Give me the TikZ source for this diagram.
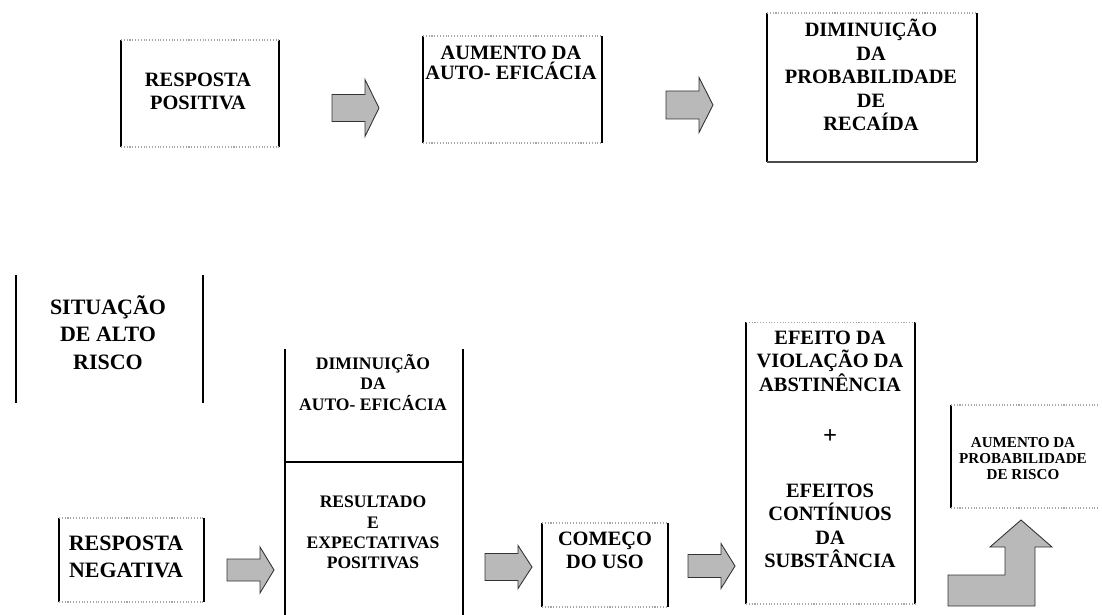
\documentclass[tikz,border=0pt]{standalone}
\usepackage{fontspec}
\setmainfont{Liberation Serif}

\begin{document}
\begin{tikzpicture}
  [x=0.02cm, y=-0.02cm,
   box/.style={inner sep=0, outer sep=0},
   txt/.style={font=\bfseries\fontsize{11.6}{13.4}\selectfont, align=center, inner sep=0},
   big/.style={font=\bfseries\fontsize{12.5}{15.5}\selectfont, align=center, inner sep=0},
   small/.style={font=\bfseries\fontsize{10}{11.5}\selectfont, align=center, inner sep=0},
   tiny/.style={font=\bfseries\fontsize{8.6}{9.1}\selectfont, align=center, inner sep=0},
   bar/.style={line width=1.6pt, black},
   rim/.style={gray!70, densely dotted, line width=0.6pt},
   fatarrow/.style={fill=gray!55, draw=gray!40!black, line width=0.5pt}]

  \useasboundingbox (0,0) rectangle (1102,615);

  % upper row
  \node[box, minimum width=3.16cm, minimum height=2.14cm] (pos) at (200,93.5) {};
  \node[box, minimum width=3.58cm, minimum height=2.14cm] (aum) at (512.5,89.5) {};
  \node[box, minimum width=4.2cm, minimum height=2.98cm] (dim) at (872,87.5) {};

  \node[txt] (postxt) at (198,91.5) {RESPOSTA\\POSITIVA};
  \node[txt, font=\bfseries\fontsize{11.6}{11.5}\selectfont] (aumtxt) at (511,63) {AUMENTO DA\\AUTO- EFICÁCIA};
  \node[txt] (dimtxt) at (871,75) {DIMINUIÇÃO\\DA\\PROBABILIDADE\\DE\\RECAÍDA};

  % lower row
  \node[box, minimum width=3.74cm, minimum height=2.56cm] (sit) at (109.5,339) {};
  \node[box, minimum width=2.9cm, minimum height=1.68cm] (neg) at (131.5,560) {};
  \node[box, minimum width=3.56cm, minimum height=5.32cm] (res) at (374,482) {};
  \node[box, minimum width=2.52cm, minimum height=1.68cm] (com) at (605,565) {};
  \node[box, minimum width=3.38cm, minimum height=5.64cm] (efe) at (830.5,463) {};
  \node[box, minimum width=2.98cm, minimum height=2.06cm] (ris) at (1025.5,456.5) {};

  \node[big] (sittxt) at (108,332.5) {SITUAÇÃO\\DE ALTO\\RISCO};
  \node[big] (negtxt) at (126,557) {RESPOSTA\\NEGATIVA};
  \node[small] (restop) at (373,382.5) {DIMINUIÇÃO\\DA\\AUTO- EFICÁCIA};
  \node[small] (resbot) at (373,532.5) {RESULTADO\\E\\EXPECTATIVAS\\POSITIVAS};
  \node[txt] (comtxt) at (605,550.5) {COMEÇO\\DO USO};
  \node[txt] (efetop) at (830,361) {EFEITO DA\\VIOLAÇÃO DA\\ABSTINÊNCIA};
  \node[txt, font=\bfseries\fontsize{14}{14}\selectfont] (plus) at (830,437) {+};
  \node[txt] (efebot) at (830,526) {EFEITOS\\CONTÍNUOS\\DA\\SUBSTÂNCIA};
  \node[tiny] (ristxt) at (1023,459) {AUMENTO DA\\PROBABILIDADE\\DE RISCO};

  % side bars and faint rims
  \foreach \b in {pos,aum,dim,sit,neg,res,com,efe}
    \draw[bar] (\b.north west) -- (\b.south west) (\b.north east) -- (\b.south east);
  \draw[bar] (ris.north west) -- (ris.south west);
  \foreach \b in {pos,aum,neg,com,efe,ris}
    \draw[rim] (\b.north west) -- (\b.north east) (\b.south west) -- (\b.south east);
  \draw[rim] (dim.north west) -- (dim.north east);
  \draw[gray!60!black, line width=0.6pt] (dim.south west) -- (dim.south east);

  \coordinate (cut) at (374,462);
  \draw[line width=0.6pt] (res.west |- cut) -- (res.east |- cut);

  % block arrows
  \foreach \x/\y/\b/\h in {332/108/27/57, 666/105/28/55, 227/570/22/46, 485/567/27/43, 688/566/23/45}
    \draw[fatarrow] (\x,{\y-\b/2}) -- ({\x+33},{\y-\b/2}) -- ({\x+33},{\y-\h/2}) -- ({\x+47},\y)
      -- ({\x+33},{\y+\h/2}) -- ({\x+33},{\y+\b/2}) -- (\x,{\y+\b/2}) -- cycle;

  \draw[fatarrow] (948,606) -- (1035,606) -- (1035,547) -- (1052,547) -- (1021,520) -- (990,547)
    -- (1005,547) -- (1005,575) -- (948,575) -- cycle;

\end{tikzpicture}
\end{document}
